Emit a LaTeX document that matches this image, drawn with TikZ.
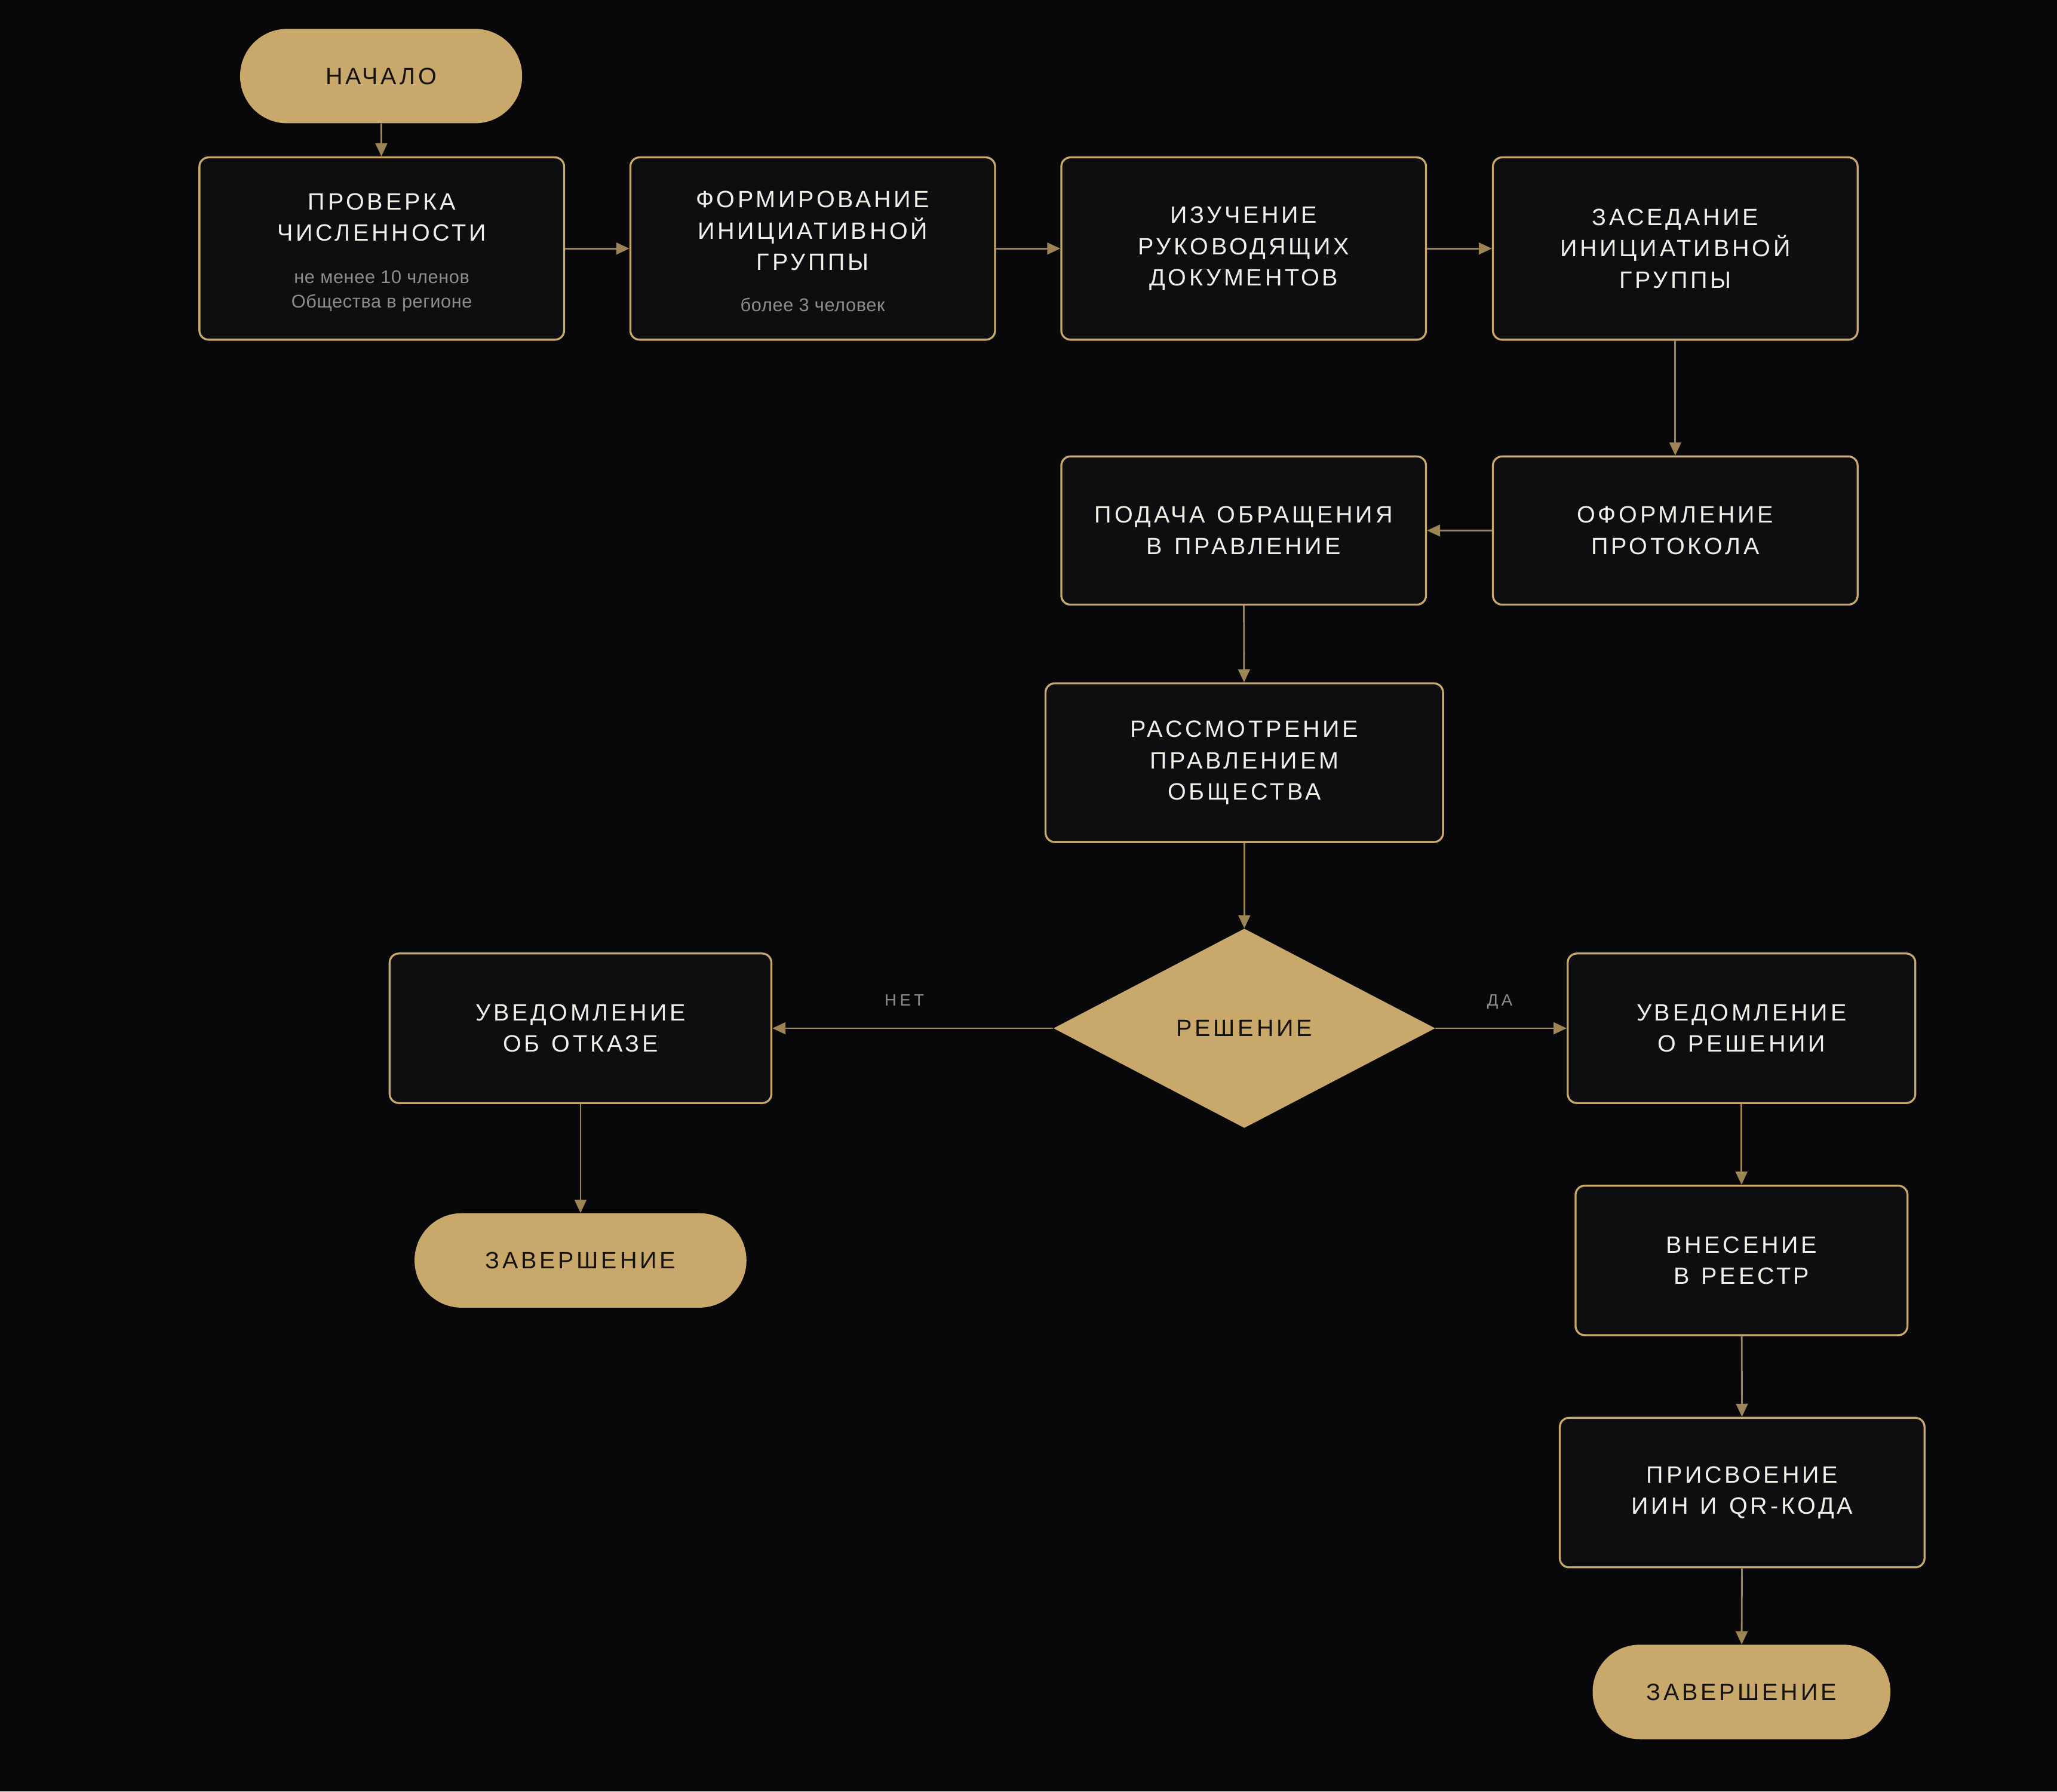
\documentclass[tikz,border=0pt]{standalone}
\usepackage{fontspec}
\setmainfont{Liberation Sans}
\newfontfamily\spacedfont[LetterSpace=12]{Liberation Sans}
\newfontfamily\subfont[LetterSpace=2]{Liberation Sans}
\newfontfamily\labelfont[LetterSpace=20]{Liberation Sans}
\usetikzlibrary{shapes.geometric,arrows.meta}

\definecolor{bgc}{HTML}{08080A}
\definecolor{boxc}{HTML}{0E0E10}
\definecolor{goldc}{HTML}{C8A96B}
\definecolor{linec}{HTML}{9C8455}
\definecolor{txtc}{HTML}{F2EFE8}
\definecolor{subc}{HTML}{908D87}
\definecolor{darkc}{HTML}{15120D}

\newcommand{\mainf}{\spacedfont\fontsize{18}{24}\selectfont\spaceskip=9.2pt\xspaceskip=9.2pt}
\newcommand{\subf}{\subfont\fontsize{14}{19}\selectfont\spaceskip=4.2pt\xspaceskip=4.2pt\color{subc}}
\newcommand{\labf}{\labelfont\fontsize{12.5}{14}\selectfont}
\newcommand{\ctext}[2]{\parbox{#1}{\centering #2\par}}

\tikzset{
  procbox/.style n args={2}{draw=goldc, line width=1.5pt, fill=boxc, rounded corners=7pt,
    text=txtc, font=\mainf, inner sep=0pt,
    minimum width=#1, minimum height=#2},
  terminal/.style={fill=goldc, rounded corners=35.9pt, text=darkc, font=\mainf,
    inner sep=0pt, minimum height=72pt, minimum width=#1},
  decision/.style={diamond, fill=goldc, text=darkc, font=\mainf, inner sep=0pt,
    minimum width=291pt, minimum height=152pt, aspect=1.91},
  flow/.style={draw=linec, line width=1.3pt, -{Triangle[length=10pt,width=9pt]}},
  edgelab/.style={text=subc, font=\labf, inner sep=0pt, anchor=base, yshift=17pt}
}

\begin{document}
\begin{tikzpicture}[x=1pt,y=-1pt]
\fill[bgc] (0,0) rectangle (1568,1366);
\useasboundingbox (0,0) rectangle (1568,1366);

\node[terminal=215pt] (start) at (290.5,58) {НАЧАЛО};

\node[procbox={278pt}{139pt}] (prov) at (291,189.5)
  {\ctext{258pt}{ПРОВЕРКА\\ЧИСЛЕННОСТИ\par\vspace{13pt}{\subf не менее 10 членов\\Общества в регионе\par}\vspace{-6pt}}};
\node[procbox={278pt}{139pt}] (form) at (619.5,189.5)
  {\ctext{258pt}{ФОРМИРОВАНИЕ\\ИНИЦИАТИВНОЙ\\ГРУППЫ\par\vspace{12pt}{\subf более 3 человек\par}\vspace{-4pt}}};
\node[procbox={278pt}{139pt}] (izuch) at (948,189.5)
  {\ctext{258pt}{ИЗУЧЕНИЕ\\РУКОВОДЯЩИХ\\ДОКУМЕНТОВ}};
\node[procbox={278pt}{139pt}] (zased) at (1277,189.5)
  {\ctext{258pt}{ЗАСЕДАНИЕ\\ИНИЦИАТИВНОЙ\\ГРУППЫ}};

\node[procbox={278pt}{113pt}] (oform) at (1277,404.5)
  {\ctext{258pt}{ОФОРМЛЕНИЕ\\ПРОТОКОЛА}};
\node[procbox={278pt}{113pt}] (podacha) at (948,404.5)
  {\ctext{268pt}{ПОДАЧА ОБРАЩЕНИЯ\\В ПРАВЛЕНИЕ}};

\node[procbox={303pt}{121pt}] (rassm) at (948.5,581.5)
  {\ctext{283pt}{РАССМОТРЕНИЕ\\ПРАВЛЕНИЕМ\\ОБЩЕСТВА}};

\node[decision] (resh) at (948.5,784) {РЕШЕНИЕ};

\node[procbox={291pt}{114pt}] (otkaz) at (442.5,784)
  {\ctext{271pt}{УВЕДОМЛЕНИЕ\\ОБ ОТКАЗЕ}};
\node[terminal=253pt] (endl) at (442.5,961) {ЗАВЕРШЕНИЕ};

\node[procbox={265pt}{114pt}] (uved) at (1327.5,784)
  {\ctext{245pt}{УВЕДОМЛЕНИЕ\\О РЕШЕНИИ}};
\node[procbox={253pt}{114pt}] (vnes) at (1327.5,961)
  {\ctext{233pt}{ВНЕСЕНИЕ\\В РЕЕСТР}};
\node[procbox={278pt}{114pt}] (prisv) at (1328,1138)
  {\ctext{258pt}{ПРИСВОЕНИЕ\\ИИН И QR-КОДА}};
\node[terminal=227pt] (endr) at (1327.5,1290) {ЗАВЕРШЕНИЕ};

\draw[flow] (start) -- (prov);
\draw[flow] (prov) -- (form);
\draw[flow] (form) -- (izuch);
\draw[flow] (izuch) -- (zased);
\draw[flow] (zased) -- (oform);
\draw[flow] (oform) -- (podacha);
\draw[flow] (podacha) -- (rassm);
\draw[flow] (rassm) -- (resh);
\draw[flow] (resh.west) -- node[edgelab, pos=0.53] (net) {НЕТ} (otkaz.east);
\draw[flow] (resh.east) -- node[edgelab, pos=0.49] (da) {ДА} (uved.west);
\draw[flow] (otkaz) -- (endl);
\draw[flow] (uved) -- (vnes);
\draw[flow] (vnes) -- (prisv);
\draw[flow] (prisv) -- (endr);
\end{tikzpicture}
\end{document}
